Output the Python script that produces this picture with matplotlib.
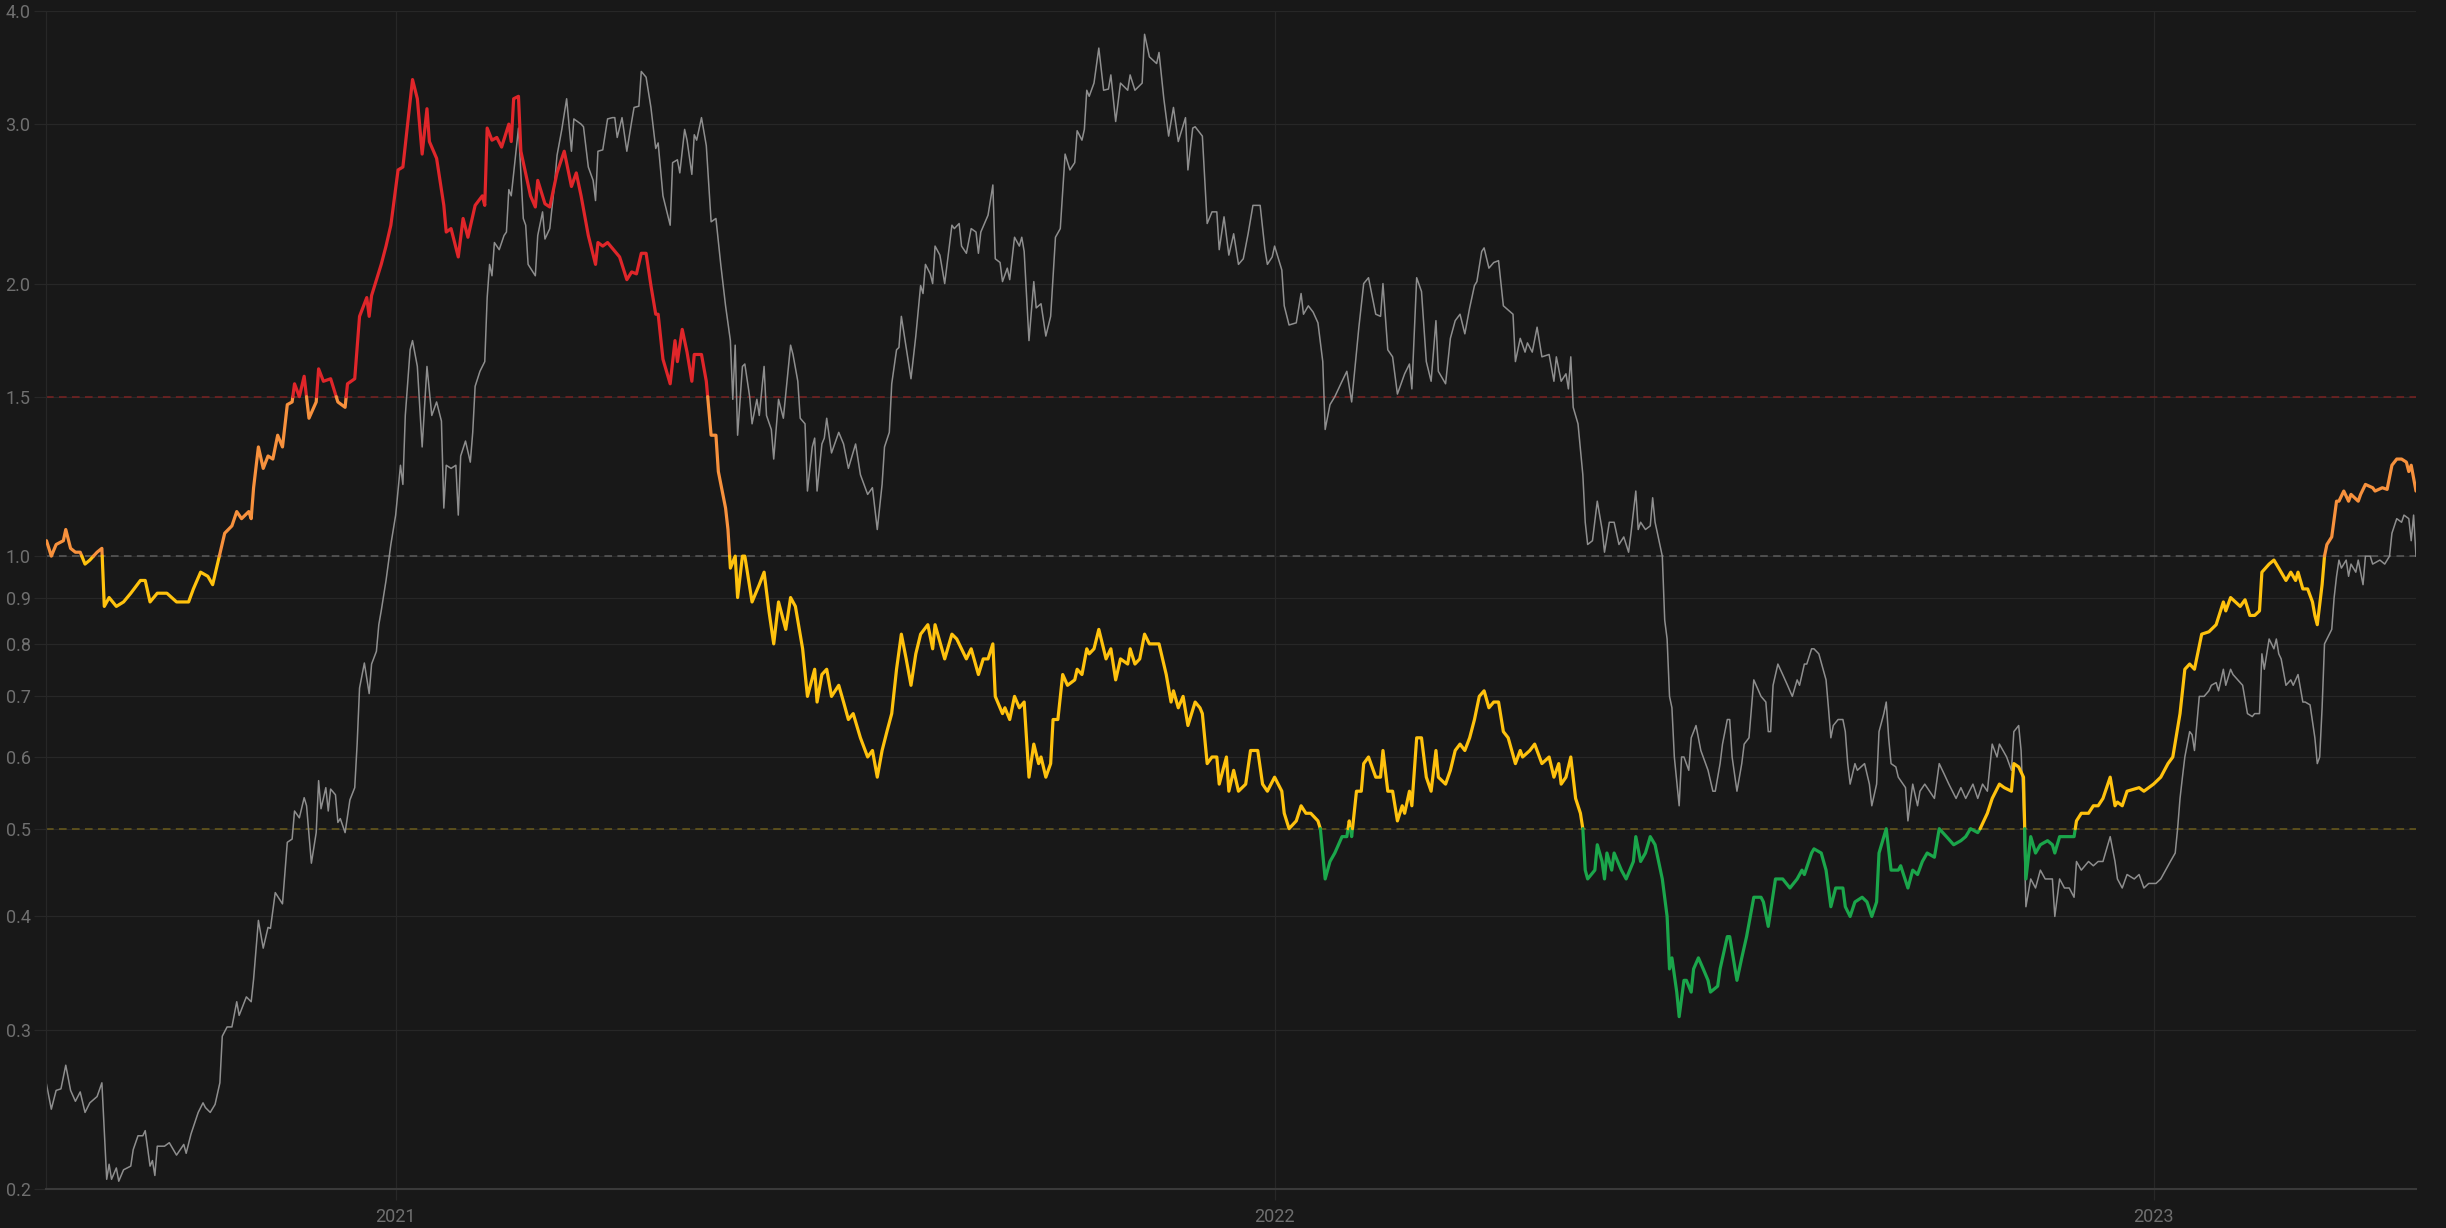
import numpy as np
import matplotlib
matplotlib.use('Agg')
from matplotlib import pyplot as plt
import matplotlib.dates as mdates
from matplotlib.ticker import FixedLocator, NullLocator, FixedFormatter

start_date = np.datetime64('2020-08-09')

# ratio series (coloured by band): days since start_date, value
ratio_days = [
    0, 2, 4, 7, 8, 10, 12, 14, 16, 18, 21, 23, 24, 26, 29, 32, 35, 39, 41, 43, 46, 50, 54, 59, 61, 64, 67, 69, 71,
    74, 77, 79, 81, 84, 85, 86, 88, 90, 92, 94, 96, 98, 100, 102, 103, 105, 107, 109, 112, 113, 115, 118, 121, 124,
    125, 128, 130, 133, 134, 135, 139, 141, 143, 146, 148, 152, 154, 156, 158, 159, 162, 165, 166, 168, 171, 173,
    175, 178, 181, 182, 183, 185, 187, 189, 192, 193, 194, 196, 197, 201, 203, 204, 207, 209, 212, 213, 215, 218,
    220, 222, 225, 228, 229, 231, 233, 238, 241, 243, 245, 247, 249, 251, 253, 254, 256, 259, 261, 262, 264, 266,
    268, 269, 272, 274, 276, 278, 279, 282, 283, 284, 286, 287, 289, 290, 293, 296, 298, 300, 302, 304, 307, 309,
    311, 314, 316, 319, 320, 322, 324, 326, 329, 331, 333, 335, 338, 341, 343, 345, 347, 349, 351, 353, 355, 357,
    359, 361, 363, 366, 368, 369, 373, 376, 378, 382, 384, 387, 389, 391, 393, 394, 397, 398, 400, 402, 404, 406,
    408, 410, 412, 413, 415, 417, 418, 420, 422, 424, 427, 428, 430, 432, 433, 435, 437, 440, 442, 444, 446, 449,
    450, 452, 454, 456, 458, 462, 465, 467, 468, 470, 472, 474, 477, 479, 480, 482, 484, 486, 487, 490, 491, 493,
    495, 498, 500, 503, 505, 507, 510, 513, 514, 516, 519, 521, 523, 525, 528, 529, 531, 533, 535, 538, 540, 541,
    542, 544, 546, 547, 549, 552, 554, 555, 557, 559, 561, 563, 564, 566, 567, 569, 571, 573, 575, 577, 578, 581,
    583, 585, 587, 589, 591, 593, 595, 597, 599, 601, 603, 605, 607, 610, 612, 613, 616, 618, 621, 624, 626, 628,
    629, 631, 633, 635, 637, 638, 639, 640, 643, 644, 646, 647, 648, 650, 651, 654, 656, 659, 660, 662, 664, 666,
    668, 671, 673, 674, 675, 677, 678, 680, 681, 683, 684, 686, 688, 690, 691, 694, 695, 698, 699, 702, 704, 706,
    709, 712, 713, 715, 718, 721, 724, 727, 729, 730, 733, 734, 737, 739, 741, 743, 746, 747, 749, 751, 754, 756,
    758, 760, 761, 764, 766, 769, 770, 773, 775, 777, 779, 781, 784, 786, 789, 792, 795, 797, 799, 802, 803, 806,
    808, 811, 813, 816, 817, 819, 821, 822, 824, 826, 828, 831, 833, 834, 836, 840, 842, 843, 845, 848, 850, 852,
    854, 857, 859, 860, 862, 864, 869, 871, 875, 878, 881, 883, 886, 888, 890, 892, 895, 898, 899, 901, 904, 905,
    907, 909, 911, 913, 915, 917, 919, 920, 923, 925, 927, 930, 932, 934, 935, 937, 939, 941, 942, 943, 945, 946,
    947, 949, 951, 952, 954, 956, 957, 960, 961, 963, 966, 967, 970, 972, 974, 976, 978, 980, 981, 982, 984]
ratio_vals = [
    1.04, 1.00, 1.03, 1.04, 1.07, 1.02, 1.01, 1.01, 0.98, 0.99, 1.01, 1.02, 0.88, 0.90, 0.88, 0.89, 0.91, 0.94,
    0.94, 0.89, 0.91, 0.91, 0.89, 0.89, 0.92, 0.96, 0.95, 0.93, 0.98, 1.06, 1.08, 1.12, 1.10, 1.12, 1.10, 1.19,
    1.32, 1.25, 1.29, 1.28, 1.36, 1.32, 1.47, 1.48, 1.55, 1.50, 1.58, 1.42, 1.48, 1.61, 1.56, 1.57, 1.48, 1.46,
    1.55, 1.57, 1.84, 1.93, 1.84, 1.94, 2.10, 2.20, 2.32, 2.67, 2.69, 3.36, 3.20, 2.78, 3.12, 2.87, 2.75, 2.44,
    2.28, 2.30, 2.14, 2.36, 2.25, 2.44, 2.50, 2.44, 2.97, 2.88, 2.90, 2.83, 3.00, 2.87, 3.20, 3.22, 2.80, 2.50,
    2.43, 2.60, 2.45, 2.43, 2.65, 2.70, 2.80, 2.56, 2.65, 2.50, 2.26, 2.10, 2.22, 2.20, 2.22, 2.14, 2.02, 2.06,
    2.05, 2.16, 2.16, 1.99, 1.85, 1.85, 1.65, 1.55, 1.73, 1.64, 1.78, 1.68, 1.56, 1.67, 1.67, 1.56, 1.36, 1.36,
    1.24, 1.13, 1.07, 0.97, 1.00, 0.90, 1.00, 1.00, 0.89, 0.93, 0.96, 0.87, 0.80, 0.89, 0.83, 0.90, 0.88, 0.79,
    0.70, 0.75, 0.69, 0.74, 0.75, 0.70, 0.72, 0.69, 0.66, 0.67, 0.63, 0.60, 0.61, 0.57, 0.61, 0.64, 0.67, 0.75,
    0.82, 0.77, 0.72, 0.78, 0.82, 0.84, 0.79, 0.84, 0.77, 0.82, 0.81, 0.77, 0.79, 0.74, 0.77, 0.77, 0.80, 0.70,
    0.67, 0.68, 0.66, 0.70, 0.68, 0.69, 0.57, 0.62, 0.59, 0.60, 0.57, 0.59, 0.66, 0.66, 0.74, 0.72, 0.73, 0.75,
    0.74, 0.79, 0.78, 0.79, 0.83, 0.77, 0.79, 0.73, 0.77, 0.76, 0.79, 0.76, 0.77, 0.82, 0.80, 0.80, 0.74, 0.69,
    0.71, 0.68, 0.70, 0.65, 0.69, 0.68, 0.67, 0.59, 0.60, 0.60, 0.56, 0.60, 0.55, 0.58, 0.55, 0.56, 0.61, 0.61,
    0.56, 0.55, 0.57, 0.55, 0.52, 0.50, 0.51, 0.53, 0.52, 0.52, 0.51, 0.50, 0.44, 0.46, 0.47, 0.49, 0.49, 0.51,
    0.49, 0.55, 0.55, 0.59, 0.60, 0.57, 0.57, 0.61, 0.55, 0.55, 0.51, 0.53, 0.52, 0.55, 0.53, 0.63, 0.63, 0.57,
    0.55, 0.61, 0.57, 0.56, 0.58, 0.61, 0.62, 0.61, 0.63, 0.66, 0.70, 0.71, 0.68, 0.69, 0.69, 0.64, 0.63, 0.59,
    0.61, 0.60, 0.61, 0.62, 0.59, 0.60, 0.57, 0.59, 0.56, 0.57, 0.60, 0.54, 0.52, 0.50, 0.45, 0.44, 0.45, 0.48,
    0.46, 0.44, 0.47, 0.45, 0.47, 0.45, 0.44, 0.46, 0.49, 0.46, 0.47, 0.49, 0.48, 0.44, 0.40, 0.35, 0.36, 0.33,
    0.31, 0.34, 0.34, 0.33, 0.35, 0.36, 0.35, 0.34, 0.33, 0.335, 0.35, 0.38, 0.38, 0.34, 0.36, 0.38, 0.42, 0.42,
    0.415, 0.39, 0.44, 0.44, 0.43, 0.44, 0.45, 0.445, 0.47, 0.475, 0.47, 0.45, 0.41, 0.43, 0.43, 0.41, 0.40,
    0.415, 0.42, 0.415, 0.40, 0.415, 0.47, 0.50, 0.45, 0.45, 0.455, 0.43, 0.45, 0.445, 0.46, 0.47, 0.465, 0.50,
    0.49, 0.48, 0.485, 0.49, 0.50, 0.495, 0.50, 0.52, 0.54, 0.56, 0.555, 0.55, 0.59, 0.585, 0.57, 0.44, 0.49,
    0.47, 0.48, 0.485, 0.48, 0.47, 0.49, 0.49, 0.49, 0.51, 0.52, 0.52, 0.53, 0.53, 0.54, 0.57, 0.53, 0.535, 0.53,
    0.55, 0.555, 0.55, 0.56, 0.57, 0.59, 0.60, 0.67, 0.75, 0.76, 0.75, 0.82, 0.825, 0.83, 0.84, 0.89, 0.87, 0.90,
    0.89, 0.88, 0.895, 0.86, 0.86, 0.87, 0.96, 0.98, 0.99, 0.97, 0.94, 0.96, 0.94, 0.96, 0.92, 0.92, 0.89, 0.86,
    0.84, 0.93, 1.00, 1.03, 1.05, 1.15, 1.15, 1.18, 1.15, 1.17, 1.15, 1.17, 1.20, 1.19, 1.18, 1.19, 1.185, 1.26,
    1.28, 1.28, 1.27, 1.24, 1.26, 1.18]

# price series (thin grey line): days since start_date, value
price_days = [
    0, 2, 4, 6, 8, 10, 12, 14, 16, 18, 21, 23, 25, 26, 27, 29, 30, 32, 35, 36, 38, 40, 41, 43, 44, 45, 46, 49, 51,
    54, 57, 58, 60, 63, 65, 66, 68, 70, 72, 73, 75, 77, 79, 80, 83, 85, 86, 88, 90, 92, 93, 95, 98, 100, 102, 103,
    105, 107, 108, 110, 112, 113, 114, 116, 117, 118, 120, 121, 122, 124, 126, 128, 129, 130, 132, 134, 135, 137,
    138, 139, 141, 143, 145, 147, 148, 149, 151, 152, 154, 156, 158, 160, 162, 164, 165, 166, 168, 170, 171, 172,
    174, 176, 177, 178, 180, 182, 183, 184, 185, 186, 188, 190, 191, 192, 193, 195, 196, 198, 199, 200, 203, 204,
    206, 207, 209, 211, 212, 214, 216, 218, 219, 222, 223, 225, 227, 228, 229, 231, 233, 235, 236, 237, 239, 241,
    243, 244, 246, 247, 249, 251, 253, 254, 256, 259, 260, 262, 263, 265, 266, 268, 269, 270, 272, 274, 276, 278,
    280, 282, 284, 285, 286, 287, 289, 290, 292, 293, 295, 296, 298, 299, 301, 302, 304, 306, 307, 309, 310, 312,
    313, 315, 316, 318, 319, 320, 322, 323, 324, 326, 329, 331, 333, 336, 338, 341, 343, 345, 347, 348, 350, 351,
    353, 354, 355, 357, 359, 361, 363, 364, 365, 367, 368, 369, 371, 373, 376, 377, 379, 380, 382, 384, 386, 387,
    388, 391, 393, 394, 396, 397, 399, 400, 402, 404, 405, 406, 408, 410, 411, 413, 415, 417, 419, 421, 423, 425,
    427, 428, 430, 431, 432, 433, 435, 437, 439, 441, 442, 444, 446, 449, 450, 452, 455, 456, 458, 461, 462, 464,
    466, 468, 470, 473, 474, 476, 477, 480, 482, 484, 486, 487, 489, 491, 493, 495, 497, 499, 501, 503, 504, 506,
    507, 509, 510, 513, 514, 516, 519, 521, 522, 524, 526, 528, 530, 531, 533, 535, 538, 540, 542, 545, 547, 549,
    552, 554, 555, 557, 559, 561, 564, 566, 567, 569, 571, 573, 575, 577, 578, 581, 583, 585, 587, 589, 591, 593,
    594, 596, 597, 599, 601, 603, 605, 607, 609, 610, 612, 614, 615, 617, 619, 621, 624, 626, 627, 629, 631, 632,
    633, 634, 636, 638, 639, 640, 642, 644, 646, 647, 649, 651, 653, 655, 657, 658, 660, 661, 662, 664, 666, 667,
    668, 670, 671, 672, 673, 674, 675, 676, 678, 679, 680, 682, 683, 685, 687, 689, 690, 692, 693, 695, 696, 698,
    699, 700, 702, 704, 705, 707, 709, 710, 712, 714, 715, 716, 717, 719, 721, 723, 725, 727, 728, 730, 731, 733,
    734, 736, 739, 740, 741, 742, 744, 746, 747, 748, 749, 751, 752, 755, 757, 758, 760, 761, 763, 764, 765, 766,
    768, 769, 771, 772, 773, 775, 777, 778, 780, 782, 784, 786, 788, 790, 793, 795, 797, 800, 802, 804, 806, 808,
    810, 811, 814, 816, 817, 819, 820, 821, 822, 824, 826, 828, 830, 833, 834, 836, 838, 840, 842, 843, 845, 848,
    850, 852, 854, 857, 859, 860, 862, 864, 867, 869, 871, 873, 876, 878, 880, 882, 884, 885, 886, 887, 888, 890,
    891, 892, 894, 896, 898, 899, 901, 902, 904, 905, 907, 908, 910, 912, 914, 916, 917, 919, 920, 921, 923, 925,
    926, 927, 928, 930, 932, 933, 935, 937, 938, 940, 942, 943, 944, 945, 946, 948, 949, 950, 951, 952, 953, 955,
    956, 957, 959, 960, 962, 963, 965, 966, 969, 971, 973, 974, 976, 978, 979, 981, 982, 983, 984]
price_vals = [
    0.261, 0.245, 0.257, 0.258, 0.274, 0.257, 0.250, 0.256, 0.243, 0.249, 0.253, 0.262, 0.205, 0.213, 0.205,
    0.211, 0.204, 0.210, 0.212, 0.221, 0.229, 0.229, 0.232, 0.212, 0.215, 0.207, 0.223, 0.223, 0.225, 0.218,
    0.224, 0.219, 0.230, 0.243, 0.249, 0.246, 0.243, 0.248, 0.262, 0.295, 0.302, 0.302, 0.322, 0.311, 0.326,
    0.322, 0.341, 0.396, 0.369, 0.389, 0.388, 0.425, 0.413, 0.483, 0.487, 0.523, 0.514, 0.541, 0.530, 0.458,
    0.495, 0.565, 0.526, 0.555, 0.523, 0.553, 0.545, 0.508, 0.513, 0.495, 0.538, 0.555, 0.620, 0.715, 0.762,
    0.705, 0.760, 0.785, 0.840, 0.870, 0.940, 1.03, 1.11, 1.26, 1.20, 1.43, 1.69, 1.73, 1.62, 1.32, 1.62, 1.43,
    1.48, 1.41, 1.13, 1.26, 1.25, 1.26, 1.11, 1.29, 1.34, 1.27, 1.37, 1.54, 1.60, 1.64, 1.93, 2.10, 2.04, 2.22,
    2.18, 2.26, 2.28, 2.54, 2.50, 2.80, 2.97, 2.36, 2.32, 2.10, 2.04, 2.26, 2.40, 2.24, 2.30, 2.58, 2.77, 2.96,
    3.20, 2.80, 3.04, 3.00, 2.98, 2.69, 2.60, 2.47, 2.80, 2.81, 3.04, 3.05, 3.05, 2.90, 3.05, 2.80, 3.02, 3.13,
    3.14, 3.43, 3.38, 3.13, 2.82, 2.86, 2.50, 2.32, 2.72, 2.74, 2.65, 2.96, 2.88, 2.64, 2.92, 2.88, 3.05, 2.84,
    2.34, 2.36, 2.10, 1.89, 1.73, 1.49, 1.71, 1.36, 1.62, 1.63, 1.50, 1.40, 1.49, 1.43, 1.62, 1.43, 1.38, 1.28,
    1.49, 1.42, 1.51, 1.71, 1.67, 1.56, 1.42, 1.40, 1.18, 1.32, 1.35, 1.18, 1.33, 1.35, 1.42, 1.30, 1.37, 1.33,
    1.25, 1.33, 1.23, 1.17, 1.19, 1.07, 1.20, 1.32, 1.37, 1.55, 1.69, 1.70, 1.84, 1.70, 1.57, 1.75, 1.99, 1.95,
    2.10, 2.05, 2.00, 2.20, 2.15, 2.00, 2.32, 2.30, 2.33, 2.20, 2.16, 2.30, 2.28, 2.16, 2.28, 2.38, 2.57, 2.13,
    2.11, 2.01, 2.08, 2.02, 2.25, 2.20, 2.25, 2.17, 1.73, 2.01, 1.88, 1.90, 1.75, 1.84, 2.25, 2.30, 2.78, 2.67,
    2.72, 2.95, 2.88, 2.96, 3.27, 3.22, 3.33, 3.64, 3.27, 3.28, 3.40, 3.02, 3.33, 3.27, 3.40, 3.27, 3.33, 3.77,
    3.56, 3.50, 3.60, 3.20, 2.91, 3.13, 2.87, 3.05, 2.67, 2.97, 2.98, 2.91, 2.33, 2.40, 2.40, 2.18, 2.37, 2.15,
    2.27, 2.10, 2.13, 2.27, 2.44, 2.44, 2.44, 2.18, 2.10, 2.14, 2.20, 2.07, 1.89, 1.80, 1.81, 1.95, 1.85, 1.89,
    1.86, 1.81, 1.64, 1.38, 1.47, 1.50, 1.56, 1.60, 1.48, 1.79, 2.00, 2.03, 1.85, 1.84, 2.00, 1.69, 1.66, 1.51,
    1.59, 1.63, 1.53, 2.03, 1.96, 1.64, 1.56, 1.82, 1.60, 1.55, 1.74, 1.82, 1.85, 1.76, 1.88, 1.99, 2.01, 2.17,
    2.19, 2.08, 2.11, 2.12, 1.89, 1.87, 1.85, 1.64, 1.74, 1.68, 1.72, 1.68, 1.79, 1.66, 1.67, 1.56, 1.66, 1.56,
    1.59, 1.53, 1.66, 1.46, 1.40, 1.23, 1.09, 1.03, 1.04, 1.15, 1.07, 1.01, 1.09, 1.09, 1.03, 1.05, 1.01, 1.06,
    1.18, 1.07, 1.09, 1.07, 1.08, 1.16, 1.09, 1.03, 1.00, 0.85, 0.81, 0.70, 0.68, 0.60, 0.53, 0.60, 0.60, 0.58,
    0.63, 0.65, 0.61, 0.59, 0.58, 0.55, 0.55, 0.59, 0.62, 0.66, 0.66, 0.60, 0.55, 0.59, 0.62, 0.63, 0.73, 0.72,
    0.70, 0.69, 0.64, 0.64, 0.72, 0.76, 0.74, 0.72, 0.70, 0.73, 0.72, 0.76, 0.76, 0.79, 0.79, 0.78, 0.73, 0.68,
    0.63, 0.65, 0.66, 0.66, 0.64, 0.59, 0.56, 0.59, 0.58, 0.59, 0.56, 0.53, 0.56, 0.64, 0.67, 0.69, 0.63, 0.59,
    0.585, 0.57, 0.56, 0.555, 0.51, 0.56, 0.53, 0.55, 0.56, 0.55, 0.54, 0.59, 0.575, 0.56, 0.54, 0.555, 0.54,
    0.56, 0.54, 0.56, 0.55, 0.62, 0.60, 0.62, 0.60, 0.58, 0.64, 0.65, 0.61, 0.52, 0.41, 0.44, 0.43, 0.45, 0.44,
    0.44, 0.40, 0.44, 0.43, 0.43, 0.42, 0.46, 0.45, 0.46, 0.455, 0.46, 0.46, 0.49, 0.46, 0.44, 0.43, 0.445, 0.44,
    0.445, 0.43, 0.435, 0.435, 0.44, 0.45, 0.46, 0.47, 0.50, 0.54, 0.57, 0.60, 0.64, 0.635, 0.61, 0.70, 0.70,
    0.71, 0.72, 0.725, 0.71, 0.75, 0.72, 0.75, 0.74, 0.73, 0.72, 0.67, 0.665, 0.67, 0.67, 0.78, 0.75, 0.81, 0.79,
    0.81, 0.78, 0.77, 0.72, 0.73, 0.72, 0.74, 0.69, 0.69, 0.685, 0.63, 0.59, 0.60, 0.68, 0.80, 0.82, 0.83, 0.90,
    0.95, 0.99, 0.97, 0.99, 0.95, 0.98, 0.96, 0.99, 0.93, 1.00, 1.00, 0.98, 0.99, 0.98, 1.00, 1.06, 1.10, 1.09,
    1.11, 1.10, 1.04, 1.11, 1.00]

band_levels = [0.5, 1.0, 1.5]
band_colors = ['#1ba64b', '#ffc20e', '#f7913d', '#e0262a']
level_colors = ['#6b5c1c', '#5c5c5c', '#7a2222']

y_ticks = [0.2, 0.3, 0.4, 0.5, 0.6, 0.7, 0.8, 0.9, 1.0, 1.5, 2.0, 3.0, 4.0]
year_ticks = ['2021-01-01', '2022-01-01', '2023-01-01']
year_labels = ['2021', '2022', '2023']

BG = '#181818'
GRID = '#272727'
TXT = '#6f6f6f'


def to_num(days):
    d = start_date + np.array(days).astype('timedelta64[D]')
    return mdates.date2num(d.astype('datetime64[ms]').astype(object))


def band_runs(x, y, levels):
    """split a line into runs that stay inside one band, cut at the levels (log space)"""
    ly = np.log(y)
    ll = np.log(levels)
    runs = []
    for i in range(len(x) - 1):
        pts = [(x[i], ly[i])]
        for l in ll:
            if (ly[i] - l) * (ly[i + 1] - l) < 0:
                t = (l - ly[i]) / (ly[i + 1] - ly[i])
                pts.append((x[i] + t * (x[i + 1] - x[i]), l))
        pts.append((x[i + 1], ly[i + 1]))
        pts.sort()
        for a, b in zip(pts[:-1], pts[1:]):
            band = int(np.searchsorted(ll, (a[1] + b[1]) / 2))
            if runs and runs[-1][0] == band:
                runs[-1][1].append(b)
            else:
                runs.append([band, [a, b]])
    return runs


fig = plt.figure(figsize=(24.46, 12.28), dpi=100, facecolor=BG)
ax = fig.add_axes([0.01901, 0.03176, 0.96873, 0.95928])
ax.set_facecolor(BG)
ax.set_yscale('log')

px = to_num(price_days)
rx = to_num(ratio_days)

for lev, c in zip(band_levels, level_colors):
    ax.axhline(lev, color=c, lw=1.1, dashes=(5, 3.5), zorder=1)

ax.plot(px, price_vals, color='#8e8e8e', lw=1.1, zorder=2)

for band, pts in band_runs(rx, np.array(ratio_vals), band_levels):
    pts = np.array(pts)
    ax.plot(pts[:, 0], np.exp(pts[:, 1]), color=band_colors[band], lw=2.3,
            solid_capstyle='round', solid_joinstyle='round', zorder=3)

ax.set_ylim(0.2, 4.0)
ax.set_xlim(to_num([0])[0], to_num([984])[0])

ax.yaxis.set_major_locator(FixedLocator(y_ticks))
ax.yaxis.set_major_formatter(FixedFormatter(['%.1f' % v for v in y_ticks]))
ax.yaxis.set_minor_locator(NullLocator())
ax.xaxis.set_major_locator(FixedLocator(mdates.date2num(np.array(year_ticks, dtype='datetime64[D]').astype('datetime64[ms]').astype(object))))
ax.xaxis.set_major_formatter(FixedFormatter(year_labels))
ax.xaxis.set_minor_locator(NullLocator())

ax.grid(True, color=GRID, lw=0.9, zorder=0)
ax.set_axisbelow(True)

for s in ['top', 'right']:
    ax.spines[s].set_visible(False)
ax.spines['left'].set_color(GRID)
ax.spines['left'].set_linewidth(0.9)
ax.spines['bottom'].set_color('#3a3a3a')
ax.spines['bottom'].set_linewidth(1.5)

ax.tick_params(axis='y', colors=GRID, labelcolor=TXT, length=8.5, width=0.9, pad=3, labelsize=13)
ax.tick_params(axis='x', colors=GRID, labelcolor=TXT, length=8, width=0.9, pad=6, labelsize=13)
for lab in ax.get_xticklabels() + ax.get_yticklabels():
    lab.set_fontfamily(['Roboto', 'DejaVu Sans'])

fig.savefig('out.png', dpi=100, facecolor=BG)
